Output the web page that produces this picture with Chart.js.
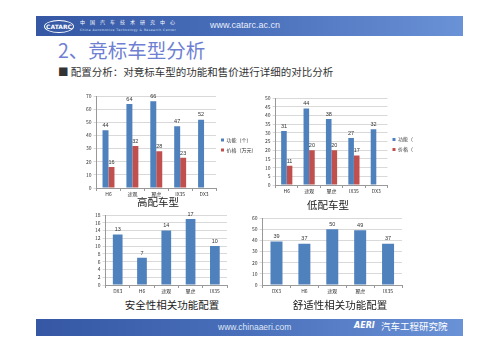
<!DOCTYPE html>
<html>
<head>
<meta charset="utf-8">
<script src="https://cdn.jsdelivr.net/npm/chart.js@4.4.0/dist/chart.umd.min.js"></script>
<style>
  body { margin: 0; width: 499px; height: 353px; background: #fff; position: relative; overflow: hidden;
         font-family: "Noto Sans CJK SC", "Noto Sans", sans-serif; }
  .abs { position: absolute; }
  .band { left: 36px; width: 427px; background: linear-gradient(90deg, #3557a4 0%, #4a70bb 50%, #6a92d6 100%); }
  .ctitle { font-size: 10.5px; color: #222; white-space: nowrap; transform: translateX(-50%); line-height: 1; }
</style>
</head>
<body>
<!-- header -->
<div class="abs band" style="top:16px;height:20px;"></div>
<div class="abs" style="left:44px;top:20px;width:28px;height:11px;border:1px solid #fff;border-radius:50%;color:#fff;font:bold 6px 'DejaVu Sans';line-height:11px;text-align:center;">CATARC</div>
<div class="abs" style="left:80px;top:19px;color:#fff;font-size:5px;letter-spacing:5px;line-height:1;">中国汽车技术研究中心</div>
<div class="abs" style="left:80px;top:29px;color:#dfe6f5;font:3px 'DejaVu Sans';letter-spacing:0.5px;line-height:1;">China Automotive Technology &amp; Research Center</div>
<div class="abs" style="left:210px;top:21px;color:#e8eefa;font:9px 'Liberation Sans';line-height:1;">www.catarc.ac.cn</div>

<div class="abs" style="left:58px;top:40px;color:#6f7fd2;font-size:19.5px;line-height:1;">2、竞标车型分析</div>
<div class="abs" style="left:58px;top:67px;color:#333;font-size:10.5px;line-height:1;">■ 配置分析：对竞标车型的功能和售价进行详细的对比分析</div>

<!-- charts -->
<div class="abs" style="left:84px;top:91px;"><canvas id="c1" width="190" height="106"></canvas></div>
<div class="abs" style="left:263px;top:93px;"><canvas id="c2" width="160" height="101"></canvas></div>
<div class="abs" style="left:93px;top:210px;"><canvas id="c3" width="140" height="84"></canvas></div>
<div class="abs" style="left:250px;top:213px;"><canvas id="c4" width="158" height="81"></canvas></div>

<div class="abs ctitle" style="left:158px;top:197px;">高配车型</div>
<div class="abs ctitle" style="left:328px;top:200px;">低配车型</div>
<div class="abs ctitle" style="left:172px;top:300px;">安全性相关功能配置</div>
<div class="abs ctitle" style="left:340px;top:300px;">舒适性相关功能配置</div>

<!-- footer -->
<div class="abs band" style="top:319px;height:17px;"></div>
<div class="abs" style="left:218px;top:323px;color:#dfe6f5;font:8.5px 'Liberation Sans';line-height:1;">www.chinaaeri.com</div>
<div class="abs" style="left:354px;top:322px;color:#fff;font:italic bold 8px 'DejaVu Sans';line-height:1;">AERI</div>
<div class="abs" style="left:381px;top:322px;color:#fff;font-size:9.5px;line-height:1;">汽车工程研究院</div>

<script>
const highLabels = ["H6", "途观", "翼虎", "IX35", "DX3"];
const highFunc = [44, 64, 66, 47, 52];
const highPrice = [16, 32, 28, 23, null];

const lowLabels = ["H6", "途观", "翼虎", "IX35", "DX3"];
const lowFunc = [31, 44, 38, 27, 32];
const lowPrice = [11, 20, 20, 17, null];

const cfgLabels = ["DX3", "H6", "途观", "翼虎", "IX35"];
const safetyVals = [13, 7, 14, 17, 10];
const comfortVals = [39, 37, 50, 49, 37];

const BLUE = "#4f81bd";
const RED = "#c0504d";
const tinyFont = { family: "Noto Sans CJK SC", size: 5 };

// 막대 위 값 표시
const valueLabels = {
  id: "valueLabels",
  afterDatasetsDraw(chart) {
    const ctx = chart.ctx;
    ctx.save();
    ctx.font = "5.5px 'Liberation Sans'";
    ctx.fillStyle = "#333";
    ctx.textAlign = "center";
    ctx.textBaseline = "bottom";
    chart.data.datasets.forEach((ds, i) => {
      chart.getDatasetMeta(i).data.forEach((bar, j) => {
        if (ds.data[j] == null) return;
        ctx.fillText(ds.data[j], bar.x, bar.y - 2);
      });
    });
    ctx.restore();
  },
};

function makeChart(id, labels, datasets, yMax, yStep, opts) {
  new Chart(document.getElementById(id), {
    type: "bar",
    data: { labels, datasets },
    plugins: [valueLabels],
    options: {
      responsive: false,
      animation: false,
      layout: { padding: opts.padding },
      datasets: { bar: { categoryPercentage: opts.catPct, barPercentage: 1 } },
      scales: {
        x: {
          ticks: { font: tinyFont, color: "#333", padding: 0 },
          grid: { offset: true, drawOnChartArea: false, tickLength: 3, color: "#999" },
          border: { color: "#999" },
        },
        y: {
          min: 0,
          max: yMax,
          ticks: { stepSize: yStep, autoSkip: false, font: tinyFont, color: "#333", padding: 2 },
          grid: { color: "#d9d9d9", tickLength: 3 },
          border: { color: "#999" },
        },
      },
      plugins: {
        legend: opts.legend
          ? {
              display: true,
              position: "right",
              labels: { boxWidth: 3, boxHeight: 3, padding: 5, font: tinyFont, color: "#333" },
            }
          : { display: false },
        tooltip: { enabled: false },
      },
    },
  });
}

makeChart("c1", highLabels, [
  { label: "功能（个）", data: highFunc, backgroundColor: BLUE },
  { label: "价格（万元）", data: highPrice, backgroundColor: RED },
], 70, 10, { legend: true, catPct: 0.5, padding: { top: 2, right: 14 } });

makeChart("c2", lowLabels, [
  { label: "功能（", data: lowFunc, backgroundColor: BLUE },
  { label: "价格（", data: lowPrice, backgroundColor: RED },
], 50, 5, { legend: true, catPct: 0.5, padding: { top: 2, right: 0 } });

makeChart("c3", cfgLabels, [
  { label: "安全性", data: safetyVals, backgroundColor: BLUE },
], 18, 2, { legend: false, catPct: 0.4, padding: { top: 2, right: 6 } });

makeChart("c4", cfgLabels, [
  { label: "舒适性", data: comfortVals, backgroundColor: BLUE },
], 60, 10, { legend: false, catPct: 0.43, padding: { top: 2, right: 6 } });
</script>
</body>
</html>
